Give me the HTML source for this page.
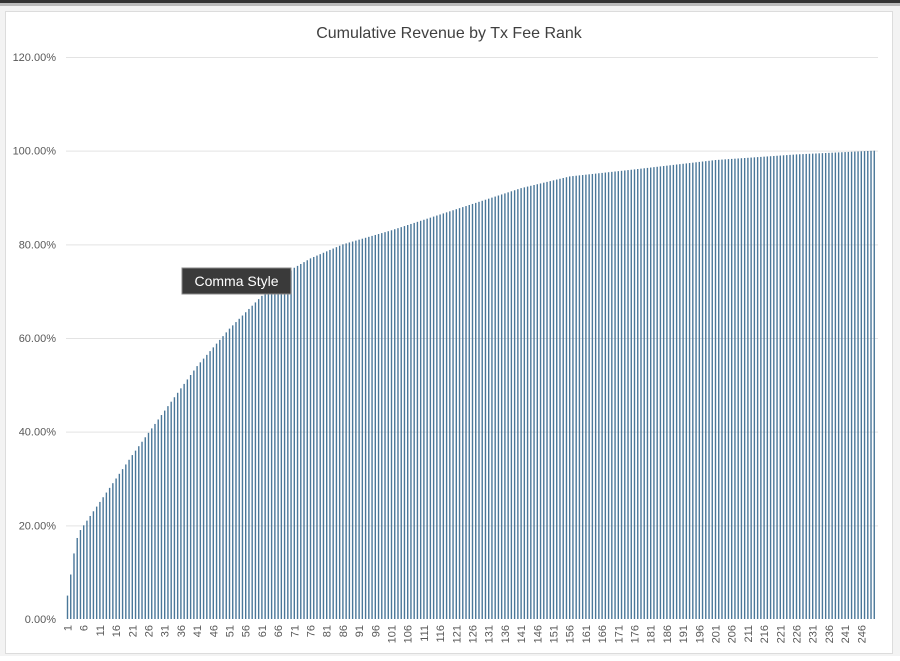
<!DOCTYPE html>
<html><head><meta charset="utf-8"><style>
body{margin:0;background:#fff;width:900px;height:656px;overflow:hidden;font-family:"Liberation Sans",sans-serif}
</style></head><body>
<svg id="s" width="900" height="656" xmlns="http://www.w3.org/2000/svg">
<rect x="0" y="0" width="900" height="656" fill="#f3f3f3"/>
<rect x="0" y="0" width="900" height="3" fill="#333"/>
<rect x="0" y="3" width="900" height="3" fill="#bbb"/>
<rect x="5.5" y="11.5" width="887" height="642" fill="#fff" stroke="#dcdcdc"/>
<text x="449" y="38" text-anchor="middle" font-size="16" fill="#404040">Cumulative Revenue by Tx Fee Rank</text>
<g id="grid" stroke="#e3e3e3" stroke-width="1"></g>
<g id="yl" font-size="11" fill="#595959" text-anchor="end"></g>
<g id="bars" fill="#4a7799"></g>
<g id="xl" font-size="11" fill="#595959"></g>
<rect x="182" y="268" width="109" height="26" fill="#3a3a3a" stroke="#888"/>
<text x="236.5" y="286" text-anchor="middle" font-size="14" fill="#fff">Comma Style</text>
</svg>
<script>
var NS="http://www.w3.org/2000/svg";
function el(p,t,a,txt){var e=document.createElementNS(NS,t);for(var k in a)e.setAttribute(k,a[k]);if(txt)e.textContent=txt;document.getElementById(p).appendChild(e);return e;}
var y0=619,y120=57,x0=66,pw=3.24;
function Y(v){return y0-(y0-y120)*v/120;}
for(var i=0;i<=6;i++){var v=i*20,y=Y(v);
 if(i>0)el("grid","line",{x1:66,x2:878,y1:y+0.5,y2:y+0.5});
 el("yl","text",{x:56,y:y+4},v.toFixed(2)+"%");}
var pts=[[1,5],[2,9.5],[3,14],[4,17.3],[5,19],[11,25],[21,35],[31,44.5],[41,54],[51,62],[61,69],[71,75],[76,77],[86,80],[101,83],[121,87.5],[141,92],[156,94.5],[176,96],[201,98],[226,99.2],[250,100]];
function val(n){for(var i=0;i<pts.length-1;i++){var a=pts[i],b=pts[i+1];if(n>=a[0]&&n<=b[0])return a[1]+(b[1]-a[1])*(n-a[0])/(b[0]-a[0]);}return 100;}
for(var n=1;n<=250;n++){var x=x0+(n-1)*pw+0.8,v=val(n),y=Y(v);
 el("bars","rect",{x:x.toFixed(2),y:y.toFixed(2),width:1.4,height:(y0-y).toFixed(2)});
 if((n-1)%5==0){var cx=x+0.7;el("xl","text",{transform:"translate("+(cx+4)+",625) rotate(-90)","text-anchor":"end"},String(n));}}
</script>
</body></html>
